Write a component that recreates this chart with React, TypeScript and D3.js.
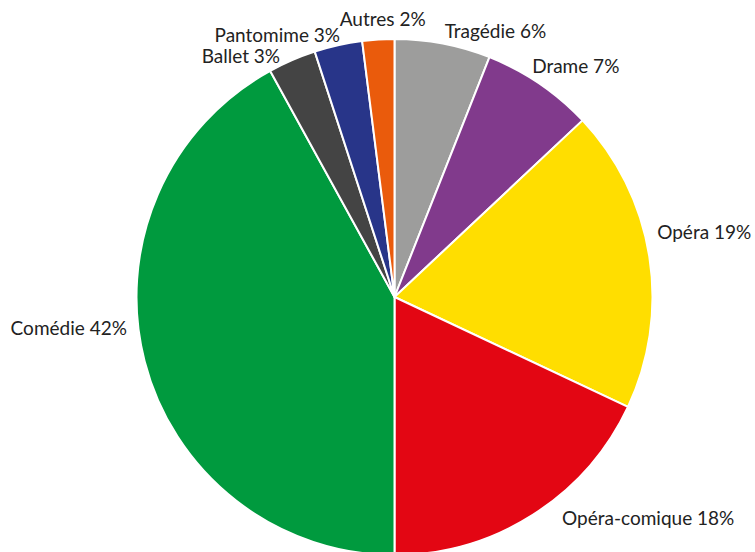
import * as d3 from 'd3';
import React, { useEffect, useRef } from 'react';

// genre shares, clockwise from 12 o'clock
const genres = ['Tragédie', 'Drame', 'Opéra', 'Opéra-comique', 'Comédie', 'Ballet', 'Pantomime', 'Autres'];
const shares = [6, 7, 19, 18, 42, 3, 3, 2];
const colors = ['#9d9d9c', '#813a8c', '#ffde00', '#e30613', '#009a3e', '#444444', '#283589', '#ea5b0c'];

const width = 755;
const height = 552;

const App: React.FC = () => {
  const svgRef = useRef<SVGSVGElement>(null);

  useEffect(() => {
    if (!svgRef.current) return;
    const svg = d3.select(svgRef.current);
    svg.selectAll('*').remove();

    const cx = 394.5;
    const cy = 297;
    const radius = 258;

    const data = genres.map((g, i) => ({ label: g, value: shares[i], color: colors[i] }));

    const pie = d3.pie<typeof data[0]>().value(d => d.value).sort(null);
    const arc = d3.arc<d3.PieArcDatum<typeof data[0]>>().innerRadius(0).outerRadius(radius);
    const labelArc = d3.arc<d3.PieArcDatum<typeof data[0]>>().innerRadius(268).outerRadius(268);

    const g = svg.append('g').attr('transform', `translate(${cx}, ${cy})`);
    const arcs = pie(data);

    g.selectAll('path')
      .data(arcs)
      .join('path')
      .attr('d', arc)
      .attr('fill', d => d.data.color)
      .attr('stroke', '#fff')
      .attr('stroke-width', 2)
      .attr('stroke-linejoin', 'round');

    // hand-tuned offsets so the labels sit where the original put them
    const nudge: Record<string, [number, number]> = {
      'Tragédie': [0, 4],
      'Drame': [-13, -2],
      'Opéra': [-2, -16],
      'Opéra-comique': [24, 2],
      'Comédie': [-8, -29],
      'Ballet': [-8, 12],
      'Pantomime': [4, 7],
      'Autres': [5, -4],
    };

    g.selectAll('text')
      .data(arcs)
      .join('text')
      .attr('transform', d => {
        const [x, y] = labelArc.centroid(d);
        const [dx, dy] = nudge[d.data.label] || [0, 0];
        return `translate(${x + dx}, ${y + dy})`;
      })
      .attr('text-anchor', d => {
        const s = Math.sin((d.startAngle + d.endAngle) / 2);
        return s > 0.1 ? 'start' : s < -0.1 ? 'end' : 'middle';
      })
      .attr('font-family', 'Lato, "Open Sans", sans-serif')
      .attr('font-size', '19px')
      .attr('fill', '#222')
      .text(d => `${d.data.label} ${d.data.value}%`);
  }, []);

  return (
    <svg
      ref={svgRef}
      width={width}
      height={height}
      style={{ position: 'absolute', left: 0, top: 0, background: '#fff' }}
    />
  );
};

export default App;
